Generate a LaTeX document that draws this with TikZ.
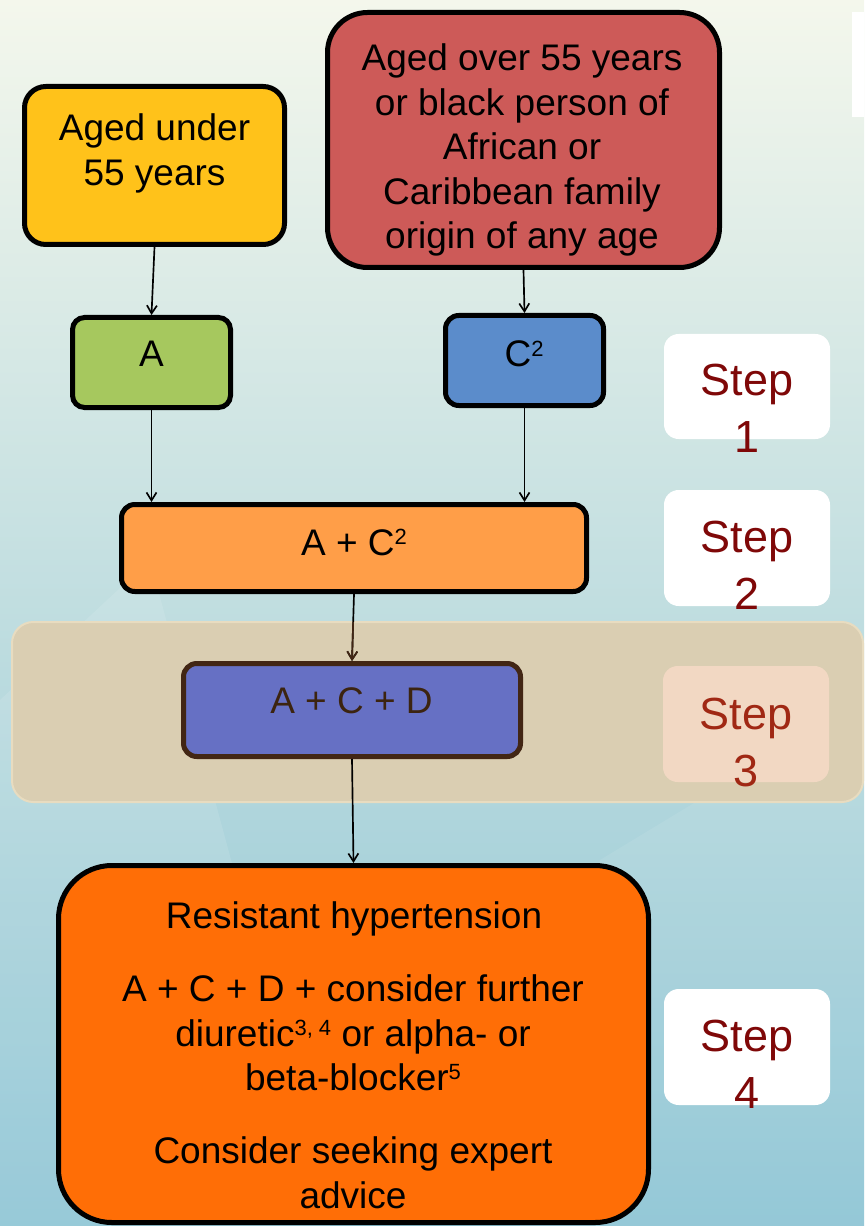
\documentclass[tikz,border=0pt]{standalone}
\usepackage{fontspec}
\setmainfont{Liberation Sans}
\usetikzlibrary{arrows.meta,calc}
\definecolor{bgtop}{RGB}{244,247,236}
\definecolor{bgmid}{RGB}{214,234,232}
\definecolor{bgbot}{RGB}{140,196,212}
\definecolor{yelc}{RGB}{255,194,26}
\definecolor{redc}{RGB}{205,90,88}
\definecolor{grnc}{RGB}{166,200,94}
\definecolor{bluc}{RGB}{91,140,203}
\definecolor{orgc}{RGB}{255,158,72}
\definecolor{purc}{RGB}{102,112,196}
\definecolor{purborder}{RGB}{66,38,20}
\definecolor{purtext}{RGB}{60,36,16}
\definecolor{bigc}{RGB}{255,110,6}
\definecolor{bandc}{RGB}{218,206,178}
\definecolor{bandedge}{RGB}{232,220,192}
\definecolor{stepred}{RGB}{127,8,8}
\definecolor{stepthree}{RGB}{160,40,20}
\definecolor{stepthreefill}{RGB}{242,216,195}
\newcommand\boxfont{\fontsize{27.75pt}{33.4pt}\selectfont}
\newcommand\stepfont{\fontsize{33.75pt}{42.75pt}\selectfont}
\newcommand\sups[1]{\raisebox{8pt}{\fontsize{16.5pt}{16.5pt}\selectfont #1}}
\begin{document}
\begin{tikzpicture}[x=0.75pt,y=-0.75pt,
  box/.style={draw=black, line width=3.75pt, inner sep=0pt},
  txt/.style={inner sep=0pt, align=center, font=\boxfont, text=black},
  arr/.style={-{Straight Barb[length=6pt,width=7.5pt]}, line width=1.25pt, draw=black},
  stepbox/.style={fill=white, rounded corners=11pt, inner sep=0pt, minimum width=166*0.75pt},
  steptxt/.style={inner sep=0pt, align=center, font=\stepfont, text=stepred, anchor=north}]
\useasboundingbox (0,0) rectangle (864,1226);
\begin{scope}
\clip (0,0) rectangle (864,1226);
% background
\fill[top color=bgtop, middle color=bgmid, bottom color=bgbot] (0,0) rectangle (864,1226);
\fill[white, opacity=0.10] (0,700) -- (150,560) -- (330,1226) -- (0,1226) -- cycle;
\fill[white, opacity=0.08] (600,860) -- (864,700) -- (864,1226) -- (520,1226) -- cycle;
\fill[white] (852,12) rectangle (864,117);
% step 3 band
\draw[fill=bandc, draw=bandedge, line width=1.5pt, rounded corners=16pt] (12,622) rectangle (863,802);
% boxes
\node[box, fill=yelc, rounded corners=16pt, minimum width=260*0.75pt, minimum height=158*0.75pt] (yel) at (154.5,165.5) {};
\node[box, fill=redc, rounded corners=30pt, minimum width=392*0.75pt, minimum height=255*0.75pt] (red) at (523.5,140) {};
\node[box, fill=grnc, rounded corners=9pt, minimum width=158*0.75pt, minimum height=90*0.75pt] (grn) at (151.5,362.5) {};
\node[box, fill=bluc, rounded corners=10pt, minimum width=158*0.75pt, minimum height=90*0.75pt] (blu) at (524.5,360.5) {};
\node[box, fill=orgc, rounded corners=10pt, minimum width=465*0.75pt, minimum height=87*0.75pt] (org) at (354,548) {};
\node[box, draw=purborder, fill=purc, rounded corners=10pt, minimum width=337*0.75pt, minimum height=93*0.75pt] (pur) at (352,710) {};
\node[box, fill=bigc, rounded corners=40pt, minimum width=590*0.75pt, minimum height=357*0.75pt] (big) at (353.5,1044) {};
% texts
\node[txt, anchor=north] (tyel) at (154.5,113.5) {Aged under\\55 years};
\node[txt, anchor=north] (tred) at (522,43.5) {Aged over 55 years\\or black person of\\African or\\Caribbean family\\origin of any age};
\node[txt, anchor=base] (tgrn) at (151.5,367) {A};
\node[txt, anchor=base] (tblu) at (524,367) {C\sups{2}};
\node[txt, anchor=base] (torg) at (354,555) {A + C\sups{2}};
\node[txt, anchor=base, text=purtext] (tpur) at (351.5,713) {A + C + D};
\node[txt, anchor=base] (tbig1) at (354,928) {Resistant hypertension};
\node[txt, anchor=north] (tbig2) at (353,974.5) {A + C + D + consider further\\diuretic\sups{3, 4} or alpha- or\\beta-blocker\sups{5}};
\node[txt, anchor=north] (tbig3) at (353,1136.5) {Consider seeking expert\\advice};
% connectors
\draw[arr] (yel.south) -- (grn.north);
\draw[arr] (red.south) -- (blu.north);
\draw[arr] (grn.south) -- (grn.south |- org.north);
\draw[arr] (blu.south) -- (blu.south |- org.north);
\draw[arr] (org.south) -- (pur.north);
\begin{scope}
\clip (12,622) rectangle (863,802);
\draw[arr, draw=purborder] (org.south) -- (pur.north);
\end{scope}
\draw[arr] (pur.south) -- (big.north);
% step boxes
\node[stepbox, minimum height=105*0.75pt] (s1) at (747,386.5) {};
\node[stepbox, minimum height=116*0.75pt] (s2) at (747,548) {};
\node[stepbox, fill=stepthreefill, minimum height=116*0.75pt] (s3) at (746,724) {};
\node[stepbox, minimum height=116*0.75pt] (s4) at (747,1047) {};
\node[steptxt] (ts1) at (747,364) {Step\\1};
\node[steptxt] (ts2) at (747,521) {Step\\2};
\node[steptxt, text=stepthree] (ts3) at (746,698) {Step\\3};
\node[steptxt] (ts4) at (747,1020) {Step\\4};
\end{scope}
\end{tikzpicture}
\end{document}
